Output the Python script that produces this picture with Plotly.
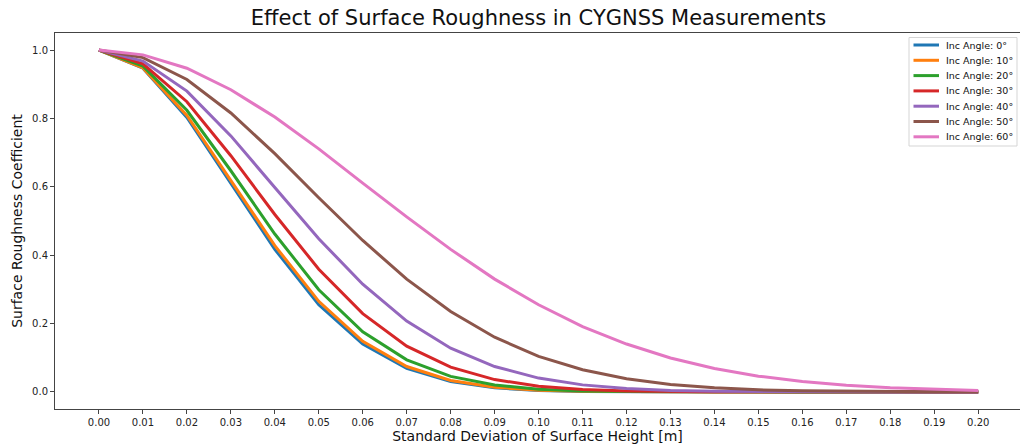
import plotly.graph_objects as go

sigma = [0.00, 0.01, 0.02, 0.03, 0.04, 0.05, 0.06, 0.07, 0.08, 0.09, 0.10,
         0.11, 0.12, 0.13, 0.14, 0.15, 0.16, 0.17, 0.18, 0.19, 0.20]

angles = ["0", "10", "20", "30", "40", "50", "60"]

coef_0 = [1.0, 0.947, 0.803, 0.611, 0.417, 0.255, 0.140, 0.0686, 0.0302, 0.0119, 0.0042,
          0.0013, 0.0004, 0.0001, 0.0, 0.0, 0.0, 0.0, 0.0, 0.0, 0.0]
coef_10 = [1.0, 0.948, 0.809, 0.620, 0.428, 0.265, 0.148, 0.0743, 0.0335, 0.0136, 0.0050,
           0.0016, 0.0005, 0.0001, 0.0, 0.0, 0.0, 0.0, 0.0, 0.0, 0.0]
coef_20 = [1.0, 0.953, 0.824, 0.647, 0.462, 0.299, 0.176, 0.0938, 0.0455, 0.0200, 0.0080,
           0.0029, 0.0010, 0.0003, 0.0001, 0.0, 0.0, 0.0, 0.0, 0.0, 0.0]
coef_30 = [1.0, 0.960, 0.849, 0.691, 0.519, 0.359, 0.229, 0.134, 0.0725, 0.0361, 0.0166,
           0.0070, 0.0027, 0.0010, 0.0003, 0.0001, 0.0, 0.0, 0.0, 0.0, 0.0]
coef_40 = [1.0, 0.968, 0.880, 0.749, 0.598, 0.448, 0.315, 0.207, 0.128, 0.0743, 0.0404,
           0.0206, 0.0098, 0.0044, 0.0019, 0.0007, 0.0003, 0.0001, 0.0, 0.0, 0.0]
coef_50 = [1.0, 0.978, 0.914, 0.816, 0.697, 0.568, 0.443, 0.330, 0.235, 0.160, 0.104,
           0.0649, 0.0386, 0.0219, 0.0119, 0.0062, 0.0031, 0.0015, 0.0007, 0.0003, 0.0001]
coef_60 = [1.0, 0.986, 0.947, 0.884, 0.804, 0.711, 0.611, 0.512, 0.417, 0.330, 0.255,
           0.191, 0.140, 0.0993, 0.0686, 0.0461, 0.0302, 0.0192, 0.0119, 0.0072, 0.0042]

series = [coef_0, coef_10, coef_20, coef_30, coef_40, coef_50, coef_60]
colors = ["#1f77b4", "#ff7f0e", "#2ca02c", "#d62728", "#9467bd", "#8c564b", "#e377c2"]

x_ticks = sigma
x_tick_labels = [f"{v:.2f}" for v in sigma]
y_ticks = [0.0, 0.2, 0.4, 0.6, 0.8, 1.0]
y_tick_labels = ["0.0", "0.2", "0.4", "0.6", "0.8", "1.0"]

names = [f"Inc Angle: {a}°" for a in angles]

fig = go.Figure()
for name, vals, col in zip(names, series, colors):
    fig.add_trace(go.Scatter(
        x=sigma, y=vals, mode="lines",
        name=name, showlegend=False,
        line=dict(color=col, width=3),
    ))

W, H = 1020, 448
ML, MR, MT, MB = 55, 0, 33, 39
PW, PH = W - ML - MR, H - MT - MB


def px_x(px):
    return (px - ML) / PW


def px_y(py):
    return (H - MB - py) / PH


font_family = "DejaVu Sans"

# legend box (matplotlib-style) drawn in paper coordinates
shapes = [dict(
    type="rect", xref="paper", yref="paper",
    x0=px_x(909), x1=px_x(1017), y0=px_y(146), y1=px_y(37.5),
    line=dict(color="#d5d5d5", width=1), fillcolor="rgba(255,255,255,0.8)",
    layer="above",
)]
annotations = []
row0, row_step = 45.0, 15.3
for i, (name, col) in enumerate(zip(names, colors)):
    yy = row0 + i * row_step
    shapes.append(dict(
        type="line", xref="paper", yref="paper",
        x0=px_x(913.5), x1=px_x(939), y0=px_y(yy), y1=px_y(yy),
        line=dict(color=col, width=3), layer="above",
    ))
    annotations.append(dict(
        xref="paper", yref="paper", x=px_x(944), y=px_y(yy),
        xanchor="left", yanchor="middle", showarrow=False,
        text=name, font=dict(family=font_family, size=9.5, color="#111"),
    ))

axis_common = dict(
    showgrid=False, zeroline=False,
    showline=True, linecolor="#444", linewidth=1,
    ticks="outside", ticklen=4, tickcolor="#444", tickwidth=1,
    tickfont=dict(family=font_family, size=10, color="#222"),
)

fig.update_layout(
    width=W, height=H,
    margin=dict(l=ML, r=MR, t=MT, b=MB),
    paper_bgcolor="white", plot_bgcolor="white",
    showlegend=False,
    title=dict(
        text="Effect of Surface Roughness in CYGNSS Measurements",
        x=(55 + 1022) / 2 / W, xanchor="center",
        y=1 - 18 / H, yanchor="middle",
        font=dict(family=font_family, size=21, color="#111"),
    ),
    xaxis=dict(
        range=[-0.01, 0.2095], mirror=True,
        tickvals=x_ticks, ticktext=x_tick_labels,
        title=dict(text="Standard Deviation of Surface Height [m]",
                   font=dict(family=font_family, size=14, color="#111"), standoff=3),
        **axis_common,
    ),
    yaxis=dict(
        range=[-0.05, 1.05],
        tickvals=y_ticks, ticktext=y_tick_labels,
        title=dict(text="Surface Roughness Coefficient",
                   font=dict(family=font_family, size=14, color="#111"), standoff=6),
        **axis_common,
    ),
    shapes=shapes,
    annotations=annotations,
)

fig.write_html("out.html")
